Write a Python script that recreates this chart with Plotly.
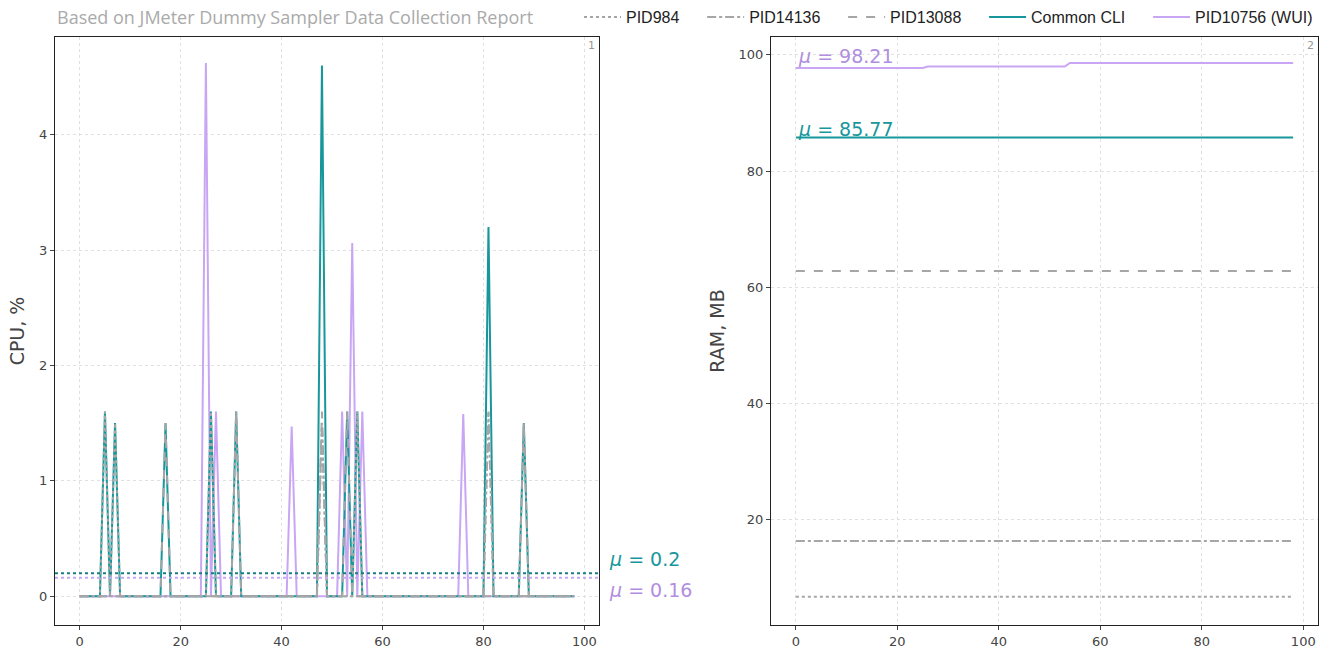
import plotly.graph_objects as go

# ---------------- data ----------------
N_POINTS = 99  # samples 0..98
X = list(range(N_POINTS))

# CPU spikes (sample index, % value)
CPU_PID984_X = [5, 7, 26, 48, 55, 81]
CPU_PID984_Y = [1.6, 1.5, 1.6, 1.5, 1.6, 1.6]
CPU_PID14136_X = [31, 48, 88]
CPU_PID14136_Y = [1.6, 1.5, 1.5]
CPU_PID13088_X = [17, 48, 53, 81]
CPU_PID13088_Y = [1.5, 1.6, 1.6, 1.6]
CPU_CLI_X = [5, 7, 17, 26, 31, 48, 53, 55, 81, 88]
CPU_CLI_Y = [1.6, 1.5, 1.5, 1.6, 1.6, 4.6, 1.6, 1.6, 3.2, 1.5]
CPU_WUI_X = [25, 27, 42, 52, 54, 56, 76]
CPU_WUI_Y = [4.62, 1.6, 1.47, 1.6, 3.06, 1.6, 1.58]

CPU_MEAN_CLI = 0.2
CPU_MEAN_WUI = 0.16

# RAM (MB) levels
RAM_PID984 = 6.7
RAM_PID14136 = 16.3
RAM_PID13088 = 62.77
RAM_CLI = 85.77
RAM_WUI_X = [0, 25, 26, 53, 54, 98]
RAM_WUI_Y = [97.75, 97.75, 98.0, 98.0, 98.6, 98.6]
RAM_MEAN_CLI = 85.77
RAM_MEAN_WUI = 98.21

SERIES_NAMES = ["PID984", "PID14136", "PID13088", "Common CLI", "PID10756 (WUI)"]


def spikes_to_series(xs, ys):
    s = [0.0] * N_POINTS
    for xi, yi in zip(xs, ys):
        s[xi] = yi
    return s


# ---------------- styles ----------------
TEAL = "#17979c"
TEAL_DARK = "#1b7d84"
PURPLE = "#c9a6f3"
PURPLE_TXT = "#b08ee0"
GRAY = "#a6a6a6"
FONT = "DejaVu Sans"
W, H = 1332, 653

# pixel-based domains
L1, R1 = 55, 599
L2, R2 = 771, 1318
TOP, BOT = 35, 625

fig = go.Figure()

styles = {
    "PID984": dict(color=GRAY, dash="dot", width=2),
    "PID14136": dict(color=GRAY, dash="dashdot", width=2),
    "PID13088": dict(color=GRAY, dash="dash", width=2),
    "Common CLI": dict(color=TEAL, width=2),
    "PID10756 (WUI)": dict(color=PURPLE, width=2),
}
ranks = {n: i for i, n in enumerate(SERIES_NAMES)}
PAD = "\u00a0" * 4

cpu = {
    "PID10756 (WUI)": spikes_to_series(CPU_WUI_X, CPU_WUI_Y),
    "Common CLI": spikes_to_series(CPU_CLI_X, CPU_CLI_Y),
    "PID13088": spikes_to_series(CPU_PID13088_X, CPU_PID13088_Y),
    "PID14136": spikes_to_series(CPU_PID14136_X, CPU_PID14136_Y),
    "PID984": spikes_to_series(CPU_PID984_X, CPU_PID984_Y),
}
for name, ys in cpu.items():
    label = name if name == SERIES_NAMES[-1] else name + PAD
    fig.add_trace(go.Scatter(x=X, y=ys, mode="lines", name=label, line=styles[name],
                             legendrank=ranks[name], xaxis="x", yaxis="y"))

ram = {
    "PID10756 (WUI)": (RAM_WUI_X, RAM_WUI_Y),
    "Common CLI": ([0, 98], [RAM_CLI, RAM_CLI]),
    "PID13088": ([0, 98], [RAM_PID13088, RAM_PID13088]),
    "PID14136": ([0, 98], [RAM_PID14136, RAM_PID14136]),
    "PID984": ([0, 98], [RAM_PID984, RAM_PID984]),
}
for name, (xs, ys) in ram.items():
    fig.add_trace(go.Scatter(x=xs, y=ys, mode="lines", name=name, line=styles[name],
                             showlegend=False, xaxis="x2", yaxis="y2"))

# mean lines on CPU
for val, col in [(CPU_MEAN_CLI, TEAL_DARK), (CPU_MEAN_WUI, PURPLE)]:
    fig.add_shape(type="line", xref="x domain", yref="y", x0=0, x1=1, y0=val, y1=val,
                  line=dict(color=col, width=2, dash="dot"))

axis_common = dict(
    showline=True, linecolor="#222", linewidth=1, mirror=True,
    ticks="outside", ticklen=4, tickcolor="#444",
    tickfont=dict(family=FONT, size=13, color="#444"),
    showgrid=True, gridcolor="#e0e0e0", griddash="dot", gridwidth=1,
    zeroline=False,
)

fig.update_layout(
    width=W, height=H,
    margin=dict(l=0, r=0, t=0, b=0),
    paper_bgcolor="white", plot_bgcolor="white",
    font=dict(family=FONT, color="#333"),
    xaxis=dict(domain=[L1 / W, R1 / W], range=[-4.9, 102.9], tickvals=[0, 20, 40, 60, 80, 100],
               anchor="y", **axis_common),
    yaxis=dict(domain=[1 - BOT / H, 1 - TOP / H], range=[-0.25, 4.847], tickvals=[0, 1, 2, 3, 4],
               anchor="x", title=dict(text="CPU, %", font=dict(family=FONT, size=19, color="#444"), standoff=9),
               **axis_common),
    xaxis2=dict(domain=[L2 / W, R2 / W], range=[-4.9, 102.9], tickvals=[0, 20, 40, 60, 80, 100],
                anchor="y2", **axis_common),
    yaxis2=dict(domain=[1 - BOT / H, 1 - TOP / H], range=[1.8, 103.1], tickvals=[20, 40, 60, 80, 100],
                anchor="x2", title=dict(text="RAM, MB", font=dict(family=FONT, size=19, color="#444"), standoff=8),
                **axis_common),
    legend=dict(orientation="h", x=1318 / W, xanchor="right", y=1 - 15 / H, yanchor="middle",
                font=dict(family="Liberation Sans", size=16, color="#222"), bgcolor="rgba(0,0,0,0)",
                traceorder="normal", itemwidth=37),
    showlegend=True,
)

ann = [
    dict(text="Based on JMeter Dummy Sampler Data Collection Report", xref="paper", yref="paper",
         x=L1 / W, y=1 - 15 / H, xanchor="left", yanchor="middle", showarrow=False,
         font=dict(family="Open Sans", size=18, color="#aaaaaa")),
    dict(text="<i>μ</i> = %s" % CPU_MEAN_CLI, xref="paper", yref="paper", x=607 / W, y=1 - 559 / H,
         xanchor="left", yanchor="middle", showarrow=False, font=dict(family=FONT, size=19, color=TEAL)),
    dict(text="<i>μ</i> = %s" % CPU_MEAN_WUI, xref="paper", yref="paper", x=607 / W, y=1 - 590 / H,
         xanchor="left", yanchor="middle", showarrow=False, font=dict(family=FONT, size=19, color=PURPLE_TXT)),
    dict(text="<i>μ</i> = %s" % RAM_MEAN_WUI, xref="x2", yref="y2", x=0, y=RAM_MEAN_WUI,
         xanchor="left", yanchor="bottom", yshift=-4, showarrow=False, font=dict(family=FONT, size=19, color=PURPLE_TXT)),
    dict(text="<i>μ</i> = %s" % RAM_MEAN_CLI, xref="x2", yref="y2", x=0, y=RAM_MEAN_CLI,
         xanchor="left", yanchor="bottom", yshift=-4, showarrow=False, font=dict(family=FONT, size=19, color=TEAL)),
    dict(text="1", xref="x domain", yref="y domain", x=1, y=1, xanchor="right", yanchor="top",
         xshift=-2, showarrow=False, font=dict(family=FONT, size=11, color="#999")),
    dict(text="2", xref="x2 domain", yref="y2 domain", x=1, y=1, xanchor="right", yanchor="top",
         xshift=-2, showarrow=False, font=dict(family=FONT, size=11, color="#999")),
]
fig.update_layout(annotations=ann)

fig.write_html("out.html")
